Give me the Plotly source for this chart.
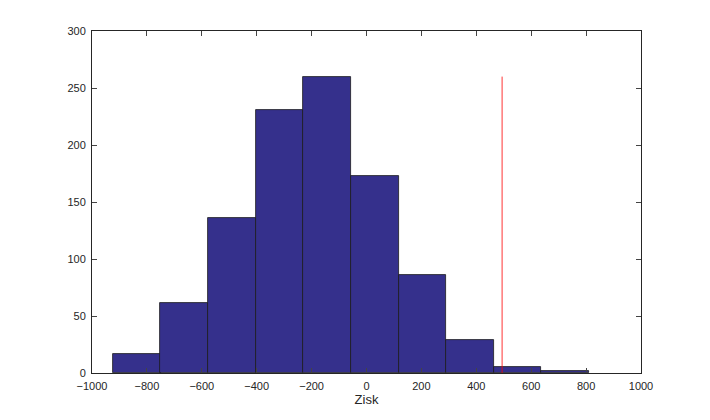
import plotly.graph_objects as go

bin_centers = [-837, -664, -490, -317, -143, 30, 204, 377, 550, 724]
counts = [17, 61, 136, 231, 260, 173, 86, 29, 5, 2]
bin_width = 173.4
marker_x = 494
marker_top = 260

fig = go.Figure()
fig.add_trace(go.Bar(x=bin_centers, y=counts, width=bin_width,
                     marker=dict(color="#35308c", line=dict(color="#1a1a1a", width=0.8))))
fig.add_trace(go.Scatter(x=[marker_x, marker_x], y=[0, marker_top], mode="lines",
                         line=dict(color="red", width=0.8)))

axis = dict(showgrid=False, zeroline=False, mirror="allticks", ticks="inside",
            showline=True, linecolor="#262626", linewidth=1, ticklen=5,
            tickfont=dict(family="Liberation Sans, Arial", size=11, color="#262626"))
fig.update_layout(
    width=710, height=420, showlegend=False, bargap=0,
    plot_bgcolor="white", paper_bgcolor="white",
    margin=dict(l=84, r=77, t=23, b=55),
    xaxis=dict(range=[-1000, 1000], dtick=200, ticklabelstandoff=3,
               title=dict(text="Zisk", standoff=2,
               font=dict(family="Liberation Sans, Arial", size=13, color="#262626")), **axis),
    yaxis=dict(range=[0, 300], dtick=50, ticklabelstandoff=3, **axis),
)
fig.write_html("out.html")
